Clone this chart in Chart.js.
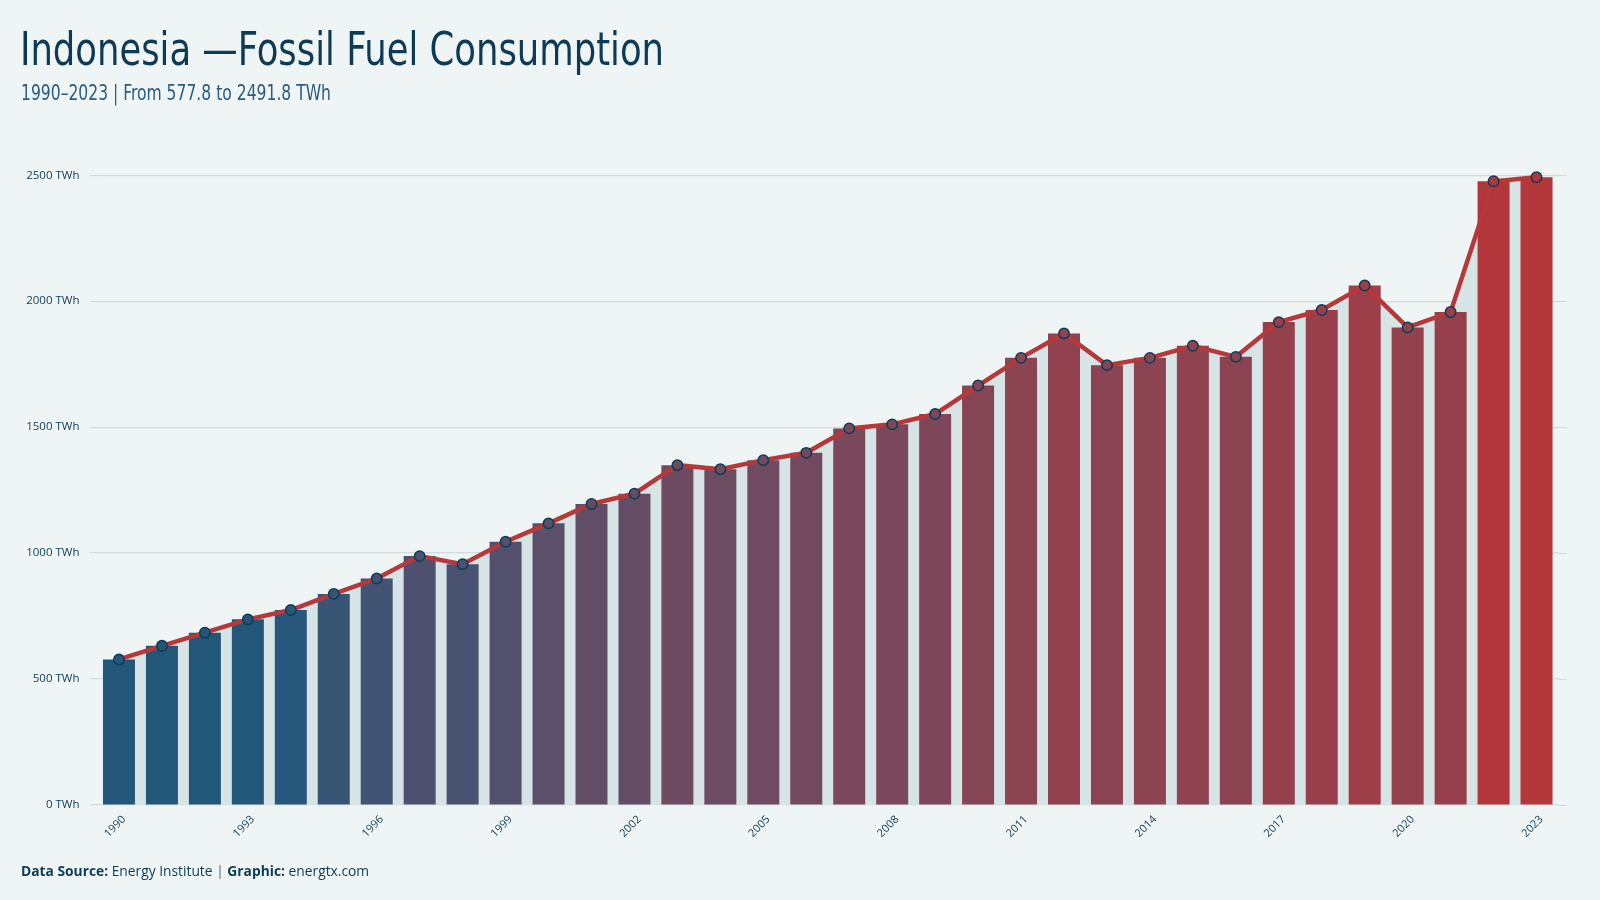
<!DOCTYPE html>
<html><head><meta charset="utf-8">
<script src="https://cdn.jsdelivr.net/npm/chart.js@4/dist/chart.umd.min.js"></script>
<style>
html,body{margin:0;padding:0;background:#eff5f5;}
#wrap{position:relative;width:1600px;height:900px;overflow:hidden;background:#eff5f5;}
#c{position:absolute;left:0;top:0;}
.title{position:absolute;left:20px;top:22px;font-family:'Liberation Sans Narrow','DejaVu Sans Condensed',sans-serif;font-size:46px;color:#0d3b56;white-space:nowrap;transform-origin:0 0;}
.sub{position:absolute;left:21px;top:81px;font-family:'Liberation Sans Narrow','DejaVu Sans Condensed',sans-serif;font-size:21px;color:#2b5c80;white-space:nowrap;transform-origin:0 0;}
.foot{position:absolute;left:21px;top:861px;font-family:'Open Sans',sans-serif;font-size:13.8px;color:#0d3b56;white-space:nowrap;}
.foot b{font-weight:700;}
.foot .sep{color:#7d9aab;font-weight:700;}
</style></head>
<body><div id="wrap">
<canvas id="c" width="1600" height="900"></canvas>
<div class="title" id="ttl">Indonesia —Fossil Fuel Consumption</div>
<div class="sub" id="sub">1990–2023 | From 577.8 to 2491.8 TWh</div>
<div class="foot"><b>Data Source:</b> Energy Institute <span class="sep">|</span> <b>Graphic:</b> energtx.com</div>
</div>
<script>
const years = [1990,1991,1992,1993,1994,1995,1996,1997,1998,1999,2000,2001,2002,2003,2004,2005,2006,2007,2008,2009,2010,2011,2012,2013,2014,2015,2016,2017,2018,2019,2020,2021,2022,2023];
const consumption = [577.8,632,684,737,774,838,899,988,956,1045,1118,1195,1236,1349,1333,1369,1398,1495,1511,1552,1665,1775,1872,1746,1775,1823,1779,1917,1965,2062,1896,1957,2476,2491.8];
const yTicks = [0,500,1000,1500,2000,2500];

function fitWidth(id, w){
  const el = document.getElementById(id);
  const cur = el.getBoundingClientRect().width;
  if (cur > 0) el.style.transform = 'scaleX(' + (w / cur) + ')';
}
fitWidth('ttl', 644);
fitWidth('sub', 310);

const maxV = Math.max(...consumption);
function colorFor(v){
  const t = Math.max(0, Math.min(1, (v - 770) / (maxV - 770)));
  const tr = Math.pow(t, 0.6), tg = Math.pow(t, 0.85);
  const r = Math.round(35 + (180-35)*tr);
  const g = Math.round(87 + (55-87)*tg);
  const b = Math.round(122 + (58-122)*tg);
  return `rgb(${r},${g},${b})`;
}
const barColors = consumption.map(colorFor);

const gridExtend = {
  id: 'gridExtend',
  beforeDatasetsDraw(chart){
    const {ctx, chartArea, scales:{y}} = chart;
    ctx.save();
    ctx.strokeStyle = '#d0dcdc';
    ctx.lineWidth = 1.2;
    yTicks.forEach(v => {
      const py = Math.round(y.getPixelForValue(v)) + 0.5;
      ctx.beginPath();
      ctx.moveTo(chartArea.right, py);
      ctx.lineTo(chartArea.right + 9, py);
      ctx.stroke();
    });
    ctx.restore();
  }
};

const ctx = document.getElementById('c').getContext('2d');
new Chart(ctx, {
  data: {
    labels: years.map(String),
    datasets: [
      {
        type: 'line',
        data: consumption,
        order: 0,
        borderColor: '#b5383a',
        borderWidth: 4.5,
        fill: 'origin',
        backgroundColor: '#d7e4e6',
        pointRadius: 5.2,
        pointBorderWidth: 1.5,
        pointBorderColor: '#0d3b56',
        pointBackgroundColor: barColors,
        tension: 0
      },
      {
        type: 'bar',
        data: consumption,
        order: 1,
        backgroundColor: barColors,
        borderWidth: 0,
        categoryPercentage: 1,
        barPercentage: 0.745
      }
    ]
  },
  plugins: [gridExtend],
  options: {
    responsive: false,
    animation: false,
    events: [],
    layout: { padding: { left: 0, right: 42, top: 146, bottom: 0 } },
    plugins: {
      legend: { display: false },
      tooltip: { enabled: false },
      filler: { drawTime: 'beforeDatasetsDraw' }
    },
    scales: {
      x: {
        type: 'category',
        offset: true,
        grid: { display: false, drawTicks: false },
        border: { display: false },
        afterFit: s => { s.height = 95; },
        ticks: {
          autoSkip: false,
          minRotation: 45, maxRotation: 45,
          padding: 8,
          labelOffset: 5,
          color: '#0d3b56',
          font: { family: 'Open Sans', size: 11 },
          callback: function(val, i){ return (years[i] - years[0]) % 3 === 0 ? String(years[i]) : ''; }
        }
      },
      y: {
        min: 0, max: 2616,
        afterBuildTicks: s => { s.ticks = yTicks.map(v => ({ value: v })); },
        afterFit: s => { s.width = 97.5; },
        border: { display: false },
        grid: { color: '#d0dcdc', lineWidth: 1.2, drawTicks: true, tickLength: 8 },
        ticks: {
          padding: 10,
          color: '#0d3b56',
          font: { family: 'Open Sans', size: 11.5 },
          callback: v => v + ' TWh'
        }
      }
    }
  }
});
</script>
</body></html>
